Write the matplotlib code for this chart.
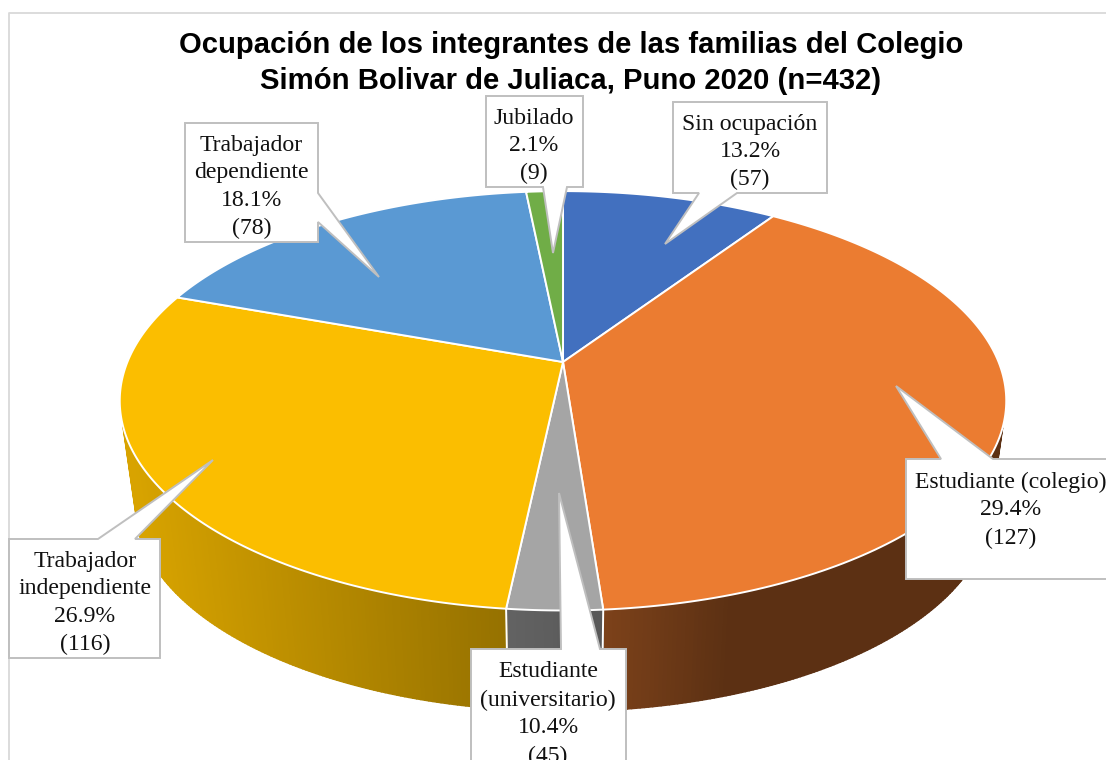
import numpy as np
import matplotlib
matplotlib.use("Agg")
import matplotlib.pyplot as plt
from matplotlib.collections import PolyCollection
from matplotlib.patches import Polygon

title = "Ocupación de los integrantes de las familias del Colegio\nSimón Bolivar de Juliaca, Puno 2020 (n=432)"

categories = ["Sin ocupación", "Estudiante (colegio)", "Estudiante\n(universitario)",
              "Trabajador\nindependiente", "Trabajador\ndependiente", "Jubilado"]
# the drawn slices do not follow the printed percentages, so both are kept
drawn_shares = [9.4, 39.4, 2.9, 28.8, 17.9, 1.6]
percents = ["13.2%", "29.4%", "10.4%", "26.9%", "18.1%", "2.1%"]
counts = [57, 127, 45, 116, 78, 9]
colors = ["#4270BF", "#EB7C31", "#A5A5A5", "#FBBE00", "#5A99D3", "#70AD47"]

# callout layout in pixels: box (x0, y0, x1, y1), tail base a, tip, tail base b, text centre
boxes = [(673, 102, 827, 193), (906, 459, 1120, 579), (471, 649, 626, 790),
         (9, 539, 160, 658), (185, 123, 318, 242), (486, 96, 583, 187)]
tails = [[(699, 193), (665, 244), (737, 193)],
         [(941, 459), (896, 386), (993, 459)],
         [(561, 649), (559, 493), (600, 649)],
         [(98, 539), (213, 460), (135, 539)],
         [(318, 193), (379, 277), (318, 222)],
         [(543, 187), (553, 253), (567, 187)]]
text_pos = [(750, 152), (1011, 510), (548, 714), (85, 603), (251.5, 187), (534, 146)]

K = 0.185


def project(theta, top=True):
    # tilted circle, theta clockwise from 12 o'clock, perspective factor K
    if top:
        a, b, y0 = 435.6, 202.5, 362.0
    else:
        a, b, y0 = 420.5, 199.0, 467.0
    u, v = np.sin(theta), np.cos(theta)
    w = 1 + K * v
    return 563 + a * u / w, y0 - b * v / w


def wall_shade(x):
    return np.interp(x, [130, 500, 605, 730, 1010], [0.86, 0.60, 0.53, 0.39, 0.39])


fig = plt.figure(figsize=(11.06, 7.6), dpi=100)
ax = fig.add_axes([0, 0, 1, 1])
ax.set_xlim(0, 1106)
ax.set_ylim(760, 0)
ax.axis("off")

# chart frame
ax.plot([9, 9, 1110], [770, 12.5, 12.5], color="#D9D9D9", lw=1.3)

edges = np.cumsum([0] + drawn_shares) / 100 * 2 * np.pi

# side wall, it only starts a bit below the widest point of the rim
for i in range(len(drawn_shares)):
    lo, hi = edges[i], edges[i + 1]
    t = np.linspace(lo, hi, max(int((hi - lo) * 120), 2) + 1)
    xt, yt = project(t, True)
    xb, yb = project(t, False)
    quads = []
    quad_colors = []
    base = np.array(matplotlib.colors.to_rgb(colors[i]))
    for j in range(len(t) - 1):
        if np.cos(t[j]) > -0.3 or np.cos(t[j + 1]) > -0.3:
            continue
        quads.append([(xt[j], yt[j]), (xt[j + 1], yt[j + 1]), (xb[j + 1], yb[j + 1]), (xb[j], yb[j])])
        quad_colors.append(base * wall_shade((xt[j] + xt[j + 1]) / 2))
    if quads:
        ax.add_collection(PolyCollection(quads, facecolors=quad_colors, edgecolors=quad_colors, linewidths=1.2, zorder=2))

# white seams between the wall parts that face the viewer
for e in edges[2:4]:
    xt, yt = project(e, True)
    xb, yb = project(e, False)
    ax.plot([xt, xb], [yt, yb], color="white", lw=1.4, zorder=3)

# top face
for i in range(len(drawn_shares)):
    t = np.linspace(edges[i], edges[i + 1], 150)
    x, y = project(t, True)
    pts = np.column_stack([np.r_[563, x], np.r_[362, y]])
    ax.add_patch(Polygon(pts, closed=True, facecolor=colors[i], edgecolor="white", lw=1.4, joinstyle="round", zorder=4))

# callouts with their tails
for i in range(len(categories)):
    x0, y0, x1, y1 = boxes[i]
    a, tip, b = tails[i]
    if a[1] == y0:  # tail leaves from the top edge
        outline = [(x0, y0), a, tip, b, (x1, y0), (x1, y1), (x0, y1)]
    elif a[0] == x1:  # right edge
        outline = [(x0, y0), (x1, y0), a, tip, b, (x1, y1), (x0, y1)]
    else:  # bottom edge
        outline = [(x0, y0), (x1, y0), (x1, y1), b, tip, a, (x0, y1)]
    ax.add_patch(Polygon(outline, closed=True, facecolor="white", edgecolor="#BFBFBF", lw=1.4, joinstyle="miter", zorder=5))
    label = "%s\n%s\n(%d)" % (categories[i], percents[i], counts[i])
    ax.text(text_pos[i][0], text_pos[i][1], label, ha="center", va="center", family="Liberation Serif",
            fontsize=17.1, color="#111111", linespacing=1.43, zorder=6)

ax.text(571, 63, title, ha="center", va="center", family="Liberation Sans", fontweight="bold",
        fontsize=21.1, color="black", linespacing=1.38, zorder=6)

fig.savefig("out.png", dpi=100)
